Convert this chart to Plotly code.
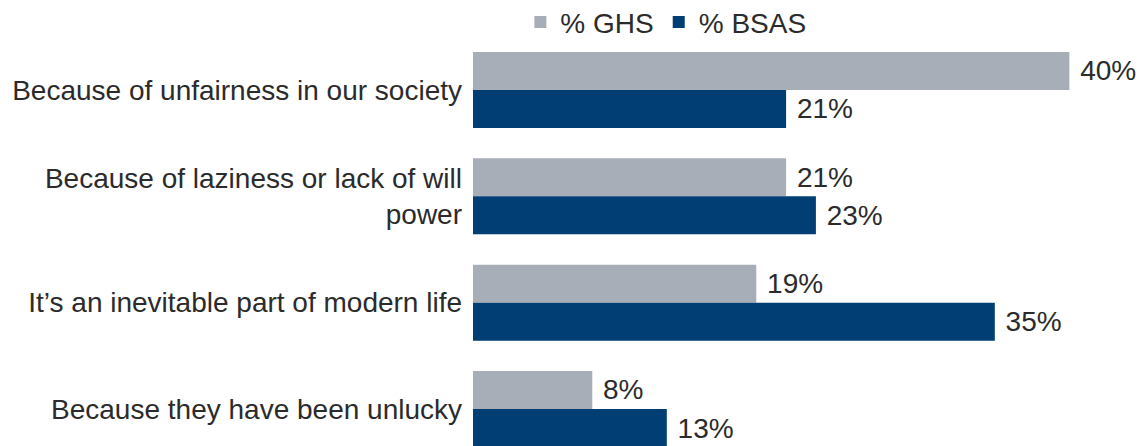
import plotly.graph_objects as go

categories = [
    "Because of unfairness in our society",
    "Because of laziness or lack of will<br>power",
    "It’s an inevitable part of modern life",
    "Because they have been unlucky",
]
ghs = [40, 21, 19, 8]
bsas = [21, 23, 35, 13]

GREY = "#A7AEB8"
NAVY = "#003E74"
TEXT = "#2b2b2b"
FONT = "Liberation Sans, Arial, sans-serif"

fig = go.Figure()
for name, vals, col in [("% GHS", ghs, GREY), ("% BSAS", bsas, NAVY)]:
    fig.add_trace(go.Bar(
        name=name, y=categories, x=vals, orientation="h",
        marker=dict(color=col, line=dict(width=0)),
        text=[f" {v}%" for v in vals], textposition="outside",
        textfont=dict(size=28, color=TEXT, family=FONT),
        constraintext="none", cliponaxis=False,
    ))

fig.update_layout(
    width=1141, height=446,
    margin=dict(l=473, r=12, t=50, b=0, autoexpand=False),
    paper_bgcolor="white", plot_bgcolor="white",
    barmode="group", bargap=0.285, bargroupgap=0,
    font=dict(family=FONT, size=28, color=TEXT),
    showlegend=True,
    legend=dict(orientation="h", x=0.294, xanchor="center", y=1.07, yanchor="middle",
                font=dict(size=28, color=TEXT)),
    xaxis=dict(range=[0, 44], visible=False, showgrid=False, zeroline=False,
               automargin=False),
    yaxis=dict(type="category", range=[3.348, -0.376], showgrid=False, zeroline=False,
               showline=False, ticks="", ticklabelstandoff=10, automargin=False,
               tickfont=dict(size=28, color=TEXT, family=FONT)),
)

fig.write_html("out.html")
